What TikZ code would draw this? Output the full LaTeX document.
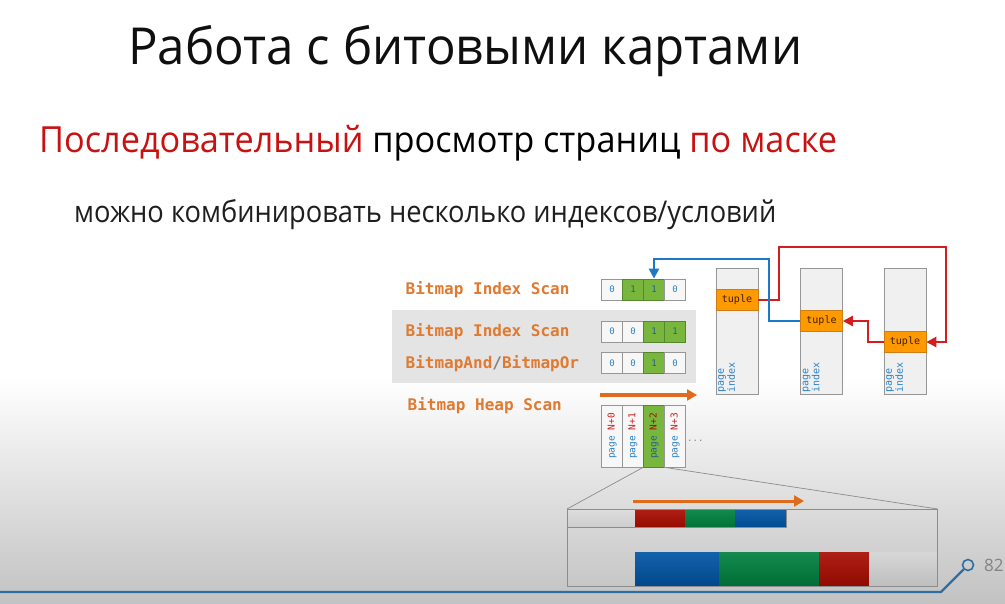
\documentclass[tikz,border=0pt]{standalone}
\usepackage{fontspec}
\setmainfont{Open Sans}
\newfontfamily\monofont{DejaVu Sans Mono}
\usetikzlibrary{arrows.meta}

% palette
\definecolor{bgbottom}{RGB}{194,194,194}
\definecolor{panelgray}{RGB}{228,228,228}
\definecolor{subred}{RGB}{200,18,18}
\definecolor{lblorange}{RGB}{224,122,48}
\definecolor{cellfill}{RGB}{247,247,247}
\definecolor{cellborder}{RGB}{150,150,150}
\definecolor{bitgreen}{RGB}{120,182,62}
\definecolor{greenborder}{RGB}{85,135,45}
\definecolor{bitblue}{RGB}{40,130,200}
\definecolor{onetext}{RGB}{35,95,140}
\definecolor{tupleorange}{RGB}{255,153,0}
\definecolor{tupleborder}{RGB}{205,125,20}
\definecolor{pagefill}{RGB}{240,240,240}
\definecolor{linkred}{RGB}{210,30,30}
\definecolor{linkblue}{RGB}{30,120,200}
\definecolor{scanorange}{RGB}{222,108,28}
\definecolor{pagered}{RGB}{205,30,30}
\definecolor{segred}{RGB}{168,12,0}
\definecolor{seggreen}{RGB}{0,128,62}
\definecolor{segblue}{RGB}{0,84,164}
\definecolor{decoblue}{RGB}{46,110,160}

% squeeze a text box horizontally to a given width (in pt)
\newsavebox\fitbox
\newcommand\fitto[2]{\sbox\fitbox{#2}\pgfmathsetmacro\fitscale{#1/\the\wd\fitbox}\scalebox{\fitscale}[1]{\usebox\fitbox}}

\begin{document}
\begin{tikzpicture}[x=1pt,y=-1pt,
  lbl/.style={anchor=base west,inner sep=0,text=lblorange,font=\monofont\bfseries\fontsize{16}{16}\selectfont},
  bitcell/.style={draw=cellborder,fill=cellfill,line width=0.8pt,minimum width=21pt,minimum height=21pt,inner sep=0,
    text=bitblue,font=\monofont\fontsize{9}{9}\selectfont},
  bitone/.style={bitcell,fill=bitgreen,draw=greenborder,text=onetext},
  pagecol/.style={draw=cellborder,fill=cellfill,line width=0.8pt,minimum width=21pt,minimum height=62pt,inner sep=0},
  coltext/.style={rotate=90,inner sep=0,font=\monofont\fontsize{9.5}{9.5}\selectfont},
  heappage/.style={draw=cellborder,fill=pagefill,line width=0.8pt,minimum width=42pt,minimum height=126pt,inner sep=0},
  tuplebox/.style={draw=tupleborder,fill=tupleorange,line width=0.6pt,minimum width=42pt,minimum height=21pt,inner sep=0,
    font=\monofont\fontsize{10}{10}\selectfont,text={rgb,255:red,60;green,30;blue,0}},
  idxtext/.style={rotate=90,anchor=north west,inner sep=0,align=left,text=bitblue,font=\monofont\fontsize{10}{11}\selectfont},
  redlink/.style={draw=linkred,line width=2.4pt,-{Triangle[length=10pt,width=10pt]}},
  bluelink/.style={draw=linkblue,line width=2.4pt,-{Triangle[length=10pt,width=10pt]}},
  scanarrow/.style={draw=scanorange,line width=3.5pt,-{Triangle[length=10pt,width=11pt]}},
  zoomline/.style={draw={rgb,255:red,140;green,140;blue,140},line width=0.7pt}
]
\useasboundingbox (0,0) rectangle (1005,604);

% slide background
\fill[white] (0,0) rectangle (1005,378);
\shade[top color=white,bottom color=bgbottom] (0,378) rectangle (1005,604);

% headings
\node[anchor=base west,inner sep=0,text={rgb,255:red,15;green,15;blue,15},font=\fontsize{51}{60}\selectfont] (title) at (128,65)
  {\fitto{674}{Работа с битовыми картами}};
\node[anchor=base west,inner sep=0,font=\fontsize{36}{44}\selectfont] (subtitle) at (39,153)
  {\fitto{798}{\textcolor{subred}{Последовательный} просмотр страниц \textcolor{subred}{по маске}}};
\node[anchor=base west,inner sep=0,text={rgb,255:red,30;green,30;blue,30},font=\fontsize{30}{36}\selectfont] (note) at (74,223)
  {\fitto{702}{можно комбинировать несколько индексов/условий}};

% grey panel behind the combined bitmaps
\fill[panelgray] (392,310) rectangle (696,383);

% plan node labels
\node[lbl] (l1) at (405.5,295) {Bitmap Index Scan};
\node[lbl] (l2) at (405.5,336.7) {Bitmap Index Scan};
\node[lbl] (l3) at (405.5,368.3) {BitmapAnd\textcolor{gray}{/}BitmapOr};
\node[lbl] (l4) at (407.5,410.7) {Bitmap Heap Scan};

% bitmaps
\node[bitcell] (b11) at (612,289.5) {0};
\node[bitone]  (b12) at (633,289.5) {1};
\node[bitone]  (b13) at (654,289.5) {1};
\node[bitcell] (b14) at (675,289.5) {0};

\node[bitcell] (b21) at (612,331.5) {0};
\node[bitcell] (b22) at (633,331.5) {0};
\node[bitone]  (b23) at (654,331.5) {1};
\node[bitone]  (b24) at (675,331.5) {1};

\node[bitcell] (b31) at (612,363) {0};
\node[bitcell] (b32) at (633,363) {0};
\node[bitone]  (b33) at (654,363) {1};
\node[bitcell] (b34) at (675,363) {0};

% heap scan direction
\coordinate (hs0) at (600,395);
\coordinate (hs1) at (697,395);
\draw[scanarrow] (hs0) -- (hs1);

% table pages read in order
\node[pagecol] (pc1) at (612,436) {};
\node[pagecol] (pc2) at (633,436) {};
\node[pagecol,fill=bitgreen,draw=greenborder] (pc3) at (654,436) {};
\node[pagecol] (pc4) at (675,436) {};
\node[coltext] (pt1) at (pc1) {\textcolor{bitblue}{page} \textcolor{pagered}{N+0}};
\node[coltext] (pt2) at (pc2) {\textcolor{bitblue}{page} \textcolor{pagered}{N+1}};
\node[coltext] (pt3) at (pc3) {\textcolor{onetext}{page} \textcolor{segred}{N+2}};
\node[coltext] (pt4) at (pc4) {\textcolor{bitblue}{page} \textcolor{pagered}{N+3}};
\node[anchor=base west,inner sep=0,text=gray,font=\monofont\fontsize{9}{9}\selectfont] (dots) at (687,441) {...};

% heap pages with tuples
\node[heappage] (p1) at (737,331) {};
\node[heappage] (p2) at (821.5,331) {};
\node[heappage] (p3) at (905,331) {};
\node[tuplebox] (t1) at (737,300) {tuple};
\node[tuplebox] (t2) at (821.5,321) {tuple};
\node[tuplebox] (t3) at (905,342) {tuple};
\node[idxtext] (i1) at (718,393) {page\\index};
\node[idxtext] (i2) at (802.5,393) {page\\index};
\node[idxtext] (i3) at (886,393) {page\\index};

% links between tuples and bitmap
\draw[redlink] (t1.east) -| (779,247) -| (946,342) -- (t3.east);
\draw[redlink] (t3.west) -| (868,321) -- (t2.east);
\draw[bluelink] (t2.west) -| (769,259) -| (b13.north);

% magnified view of the data file
\node[draw={rgb,255:red,140;green,140;blue,140},line width=0.8pt,minimum width=370pt,minimum height=77pt,inner sep=0,anchor=north west] (zbox) at (567,509) {};
\draw[zoomline] (pc3.south west) -- (zbox.north west);
\draw[zoomline] (pc3.south east) -- (zbox.north east);

\shade[top color={rgb,255:red,222;green,222;blue,222},bottom color={rgb,255:red,205;green,205;blue,205}] (567,509) rectangle (635,527);
\shade[top color=segred!92!white,bottom color=segred!90!black] (635,509) rectangle (685,527);
\shade[top color=seggreen!92!white,bottom color=seggreen!90!black] (685,509) rectangle (735,527);
\shade[top color=segblue!92!white,bottom color=segblue!90!black] (735,509) rectangle (786,527);
\draw[zoomline] (567,509) rectangle (786,527);

\draw[zoomline] (635,552) -- (937,552);
\shade[top color=segblue!92!white,bottom color=segblue!85!black] (635,552) rectangle (719,586);
\shade[top color=seggreen!92!white,bottom color=seggreen!85!black] (719,552) rectangle (819,586);
\shade[top color=segred!92!white,bottom color=segred!85!black] (819,552) rectangle (869,586);
\shade[top color={rgb,255:red,215;green,215;blue,215},bottom color={rgb,255:red,190;green,190;blue,190}] (869,552) rectangle (937,586);
\draw[zoomline] (567,509) rectangle (937,586);

\coordinate (fs0) at (633,501);
\coordinate (fs1) at (804,501);
\draw[scanarrow,line width=3pt] (fs0) -- (fs1);

% footer line and page number
\node[circle,draw=decoblue,line width=1.6pt,minimum size=11pt,inner sep=0] (ring) at (968,565) {};
\coordinate (ft0) at (0,592);
\draw[decoblue,line width=2.2pt] (ft0) -- (941,592) -- (ring.south west);
\node[anchor=west,inner sep=0,text={rgb,255:red,130;green,130;blue,130},font=\fontsize{17}{17}\selectfont] (pnum) at (984,565) {82};
\end{tikzpicture}
\end{document}
